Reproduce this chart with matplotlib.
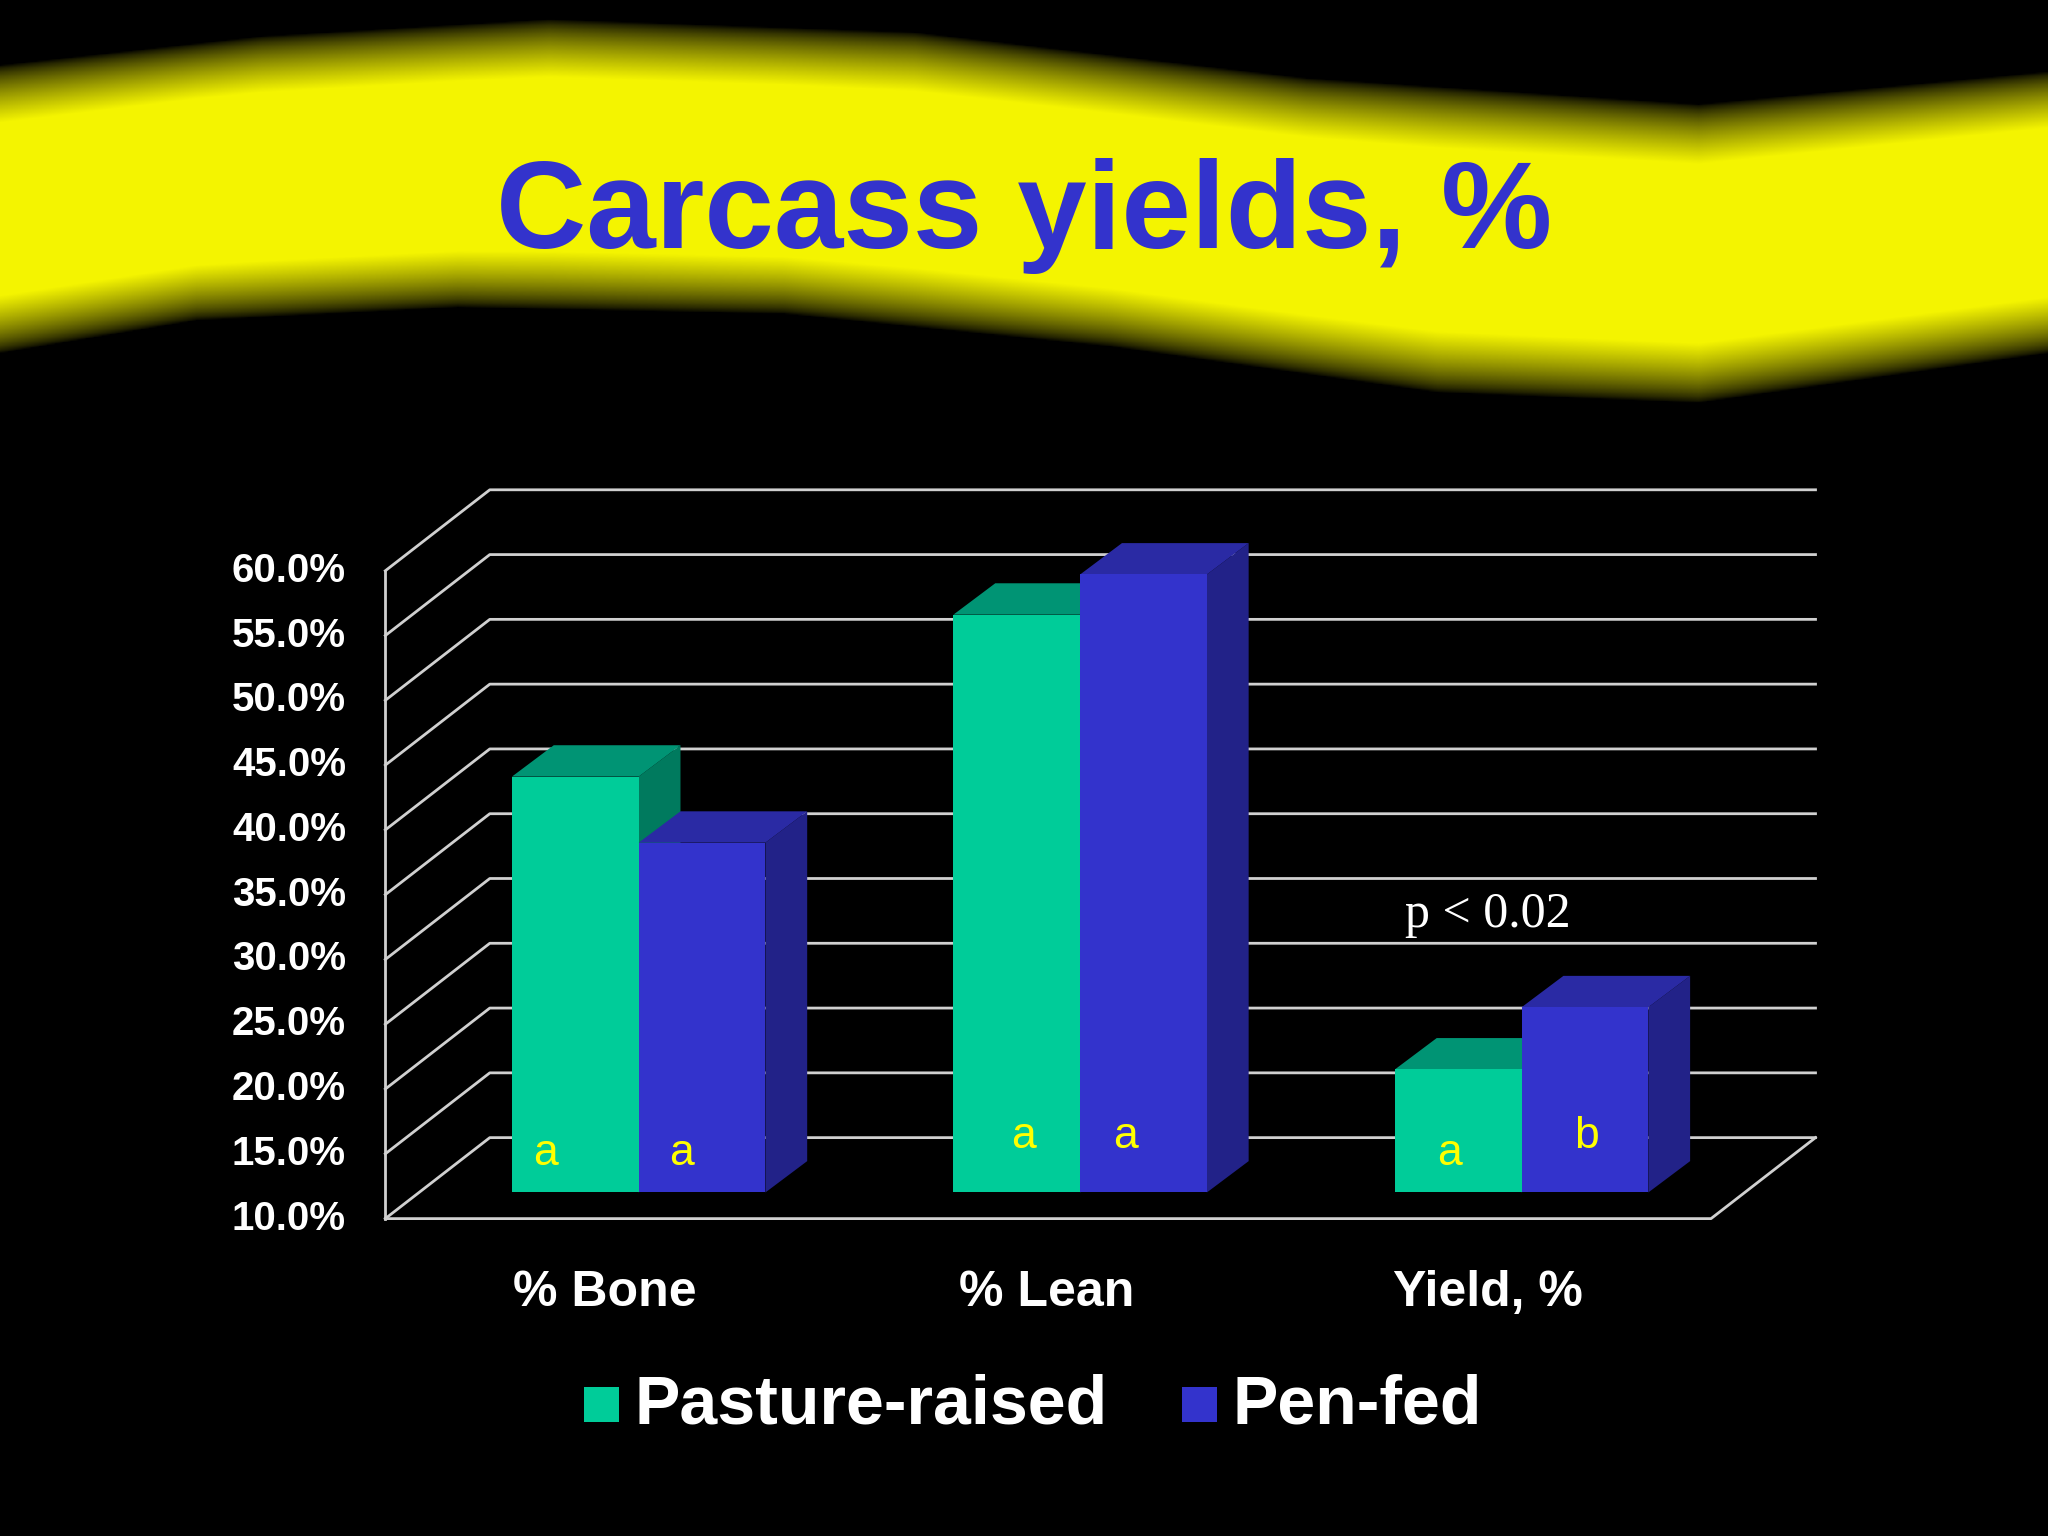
import numpy as np
import matplotlib.pyplot as plt
from matplotlib.patches import Polygon

# données
categories = ["% Bone", "% Lean", "Yield, %"]
pasture = [42.1, 54.6, 19.5]
penfed = [37.0, 57.7, 24.3]
letters_pasture = ["a", "a", "a"]
letters_penfed = ["a", "a", "b"]
ticks = [10, 15, 20, 25, 30, 35, 40, 45, 50, 55, 60]

W, H = 1568, 1176
fig = plt.figure(figsize=(20.48, 15.36), dpi=100, facecolor="black")
ax = fig.add_axes([0, 0, 1, 1])
ax.set_xlim(0, W)
ax.set_ylim(H, 0)
ax.axis("off")
ax.set_facecolor("black")

# bandeau jaune avec dégradé sur les bords
xs = np.arange(W)
top = np.interp(xs, [0, 200, 420, 700, 1000, 1300, 1568], [50, 28, 15, 25, 60, 80, 55])
bot = np.interp(xs, [0, 150, 350, 600, 850, 1100, 1300, 1568], [270, 245, 235, 240, 265, 300, 308, 270])
yy = np.arange(330)[:, None]
t = (yy - top[None, :]) / (bot - top)[None, :]
m = np.clip(np.minimum(t, 1 - t) / 0.2, 0, 1)
m = np.where((t < 0) | (t > 1), 0, m) ** 0.7
img = np.zeros((330, W, 3))
img[..., 0] = 0.96 * m
img[..., 1] = 0.96 * m
ax.imshow(img, extent=(0, W, 330, 0), zorder=0)
ax.text(W / 2, 165, "Carcass yields, %", color="#3333cc", fontsize=90,
        fontweight="bold", ha="center", va="center", family="Liberation Sans", zorder=5)

# géométrie du graphe pseudo-3D
y0, ppu = 933, 9.92          # 10 % en façade, pixels par point de %
xf0, xf1 = 295, 1310
dx, dy = 80, -62
def yv(v, base=y0):
    return base - (v - 10) * ppu

gc = "#d0d0d0"
for v in ticks:
    y = yv(v)
    ax.plot([xf0, xf0 + dx, xf1 + dx], [y, y + dy, y + dy], color=gc, lw=2, zorder=1)
    ax.text(265, y, f"{v:.1f}%", color="white", fontsize=29, fontweight="bold",
            ha="right", va="center", family="Liberation Sans")
ax.plot([xf0, xf0], [yv(10), yv(60)], color=gc, lw=2)
ax.plot([xf0, xf1, xf1 + dx], [y0, y0, y0 + dy], color=gc, lw=2)

bw, ddx, ddy = 97, 32, -24
base = 913
starts = [392, 730, 1068]
letter_x = [[418, 522], [784, 862], [1110, 1215]]
letter_y = [[883, 883], [870, 870], [883, 870]]
series = [(pasture, "#00cc99", "#009474", "#007a5e", letters_pasture),
          (penfed, "#3333cc", "#2a2aa4", "#222288", letters_penfed)]
for i, x0 in enumerate(starts):
    for j, (vals, cf, ct, cs, lets) in enumerate(series):
        xl = x0 + j * bw
        yt = base - (vals[i] - 10) * ppu
        ax.add_patch(Polygon([[xl + bw, base], [xl + bw + ddx, base + ddy],
                              [xl + bw + ddx, yt + ddy], [xl + bw, yt]], fc=cs, ec="none", zorder=3 + j))
        ax.add_patch(Polygon([[xl, yt], [xl + ddx, yt + ddy], [xl + bw + ddx, yt + ddy],
                              [xl + bw, yt]], fc=ct, ec="none", zorder=3 + j))
        ax.add_patch(Polygon([[xl, base], [xl + bw, base], [xl + bw, yt], [xl, yt]],
                             fc=cf, ec="none", zorder=3 + j))
        ax.text(letter_x[i][j], letter_y[i][j], lets[i], color="#ffff00", fontsize=32,
                ha="center", va="center", family="Liberation Sans", zorder=8)
ax.text(463, 990, categories[0], color="white", fontsize=36, fontweight="bold",
        ha="center", va="center", family="Liberation Sans")
ax.text(801, 990, categories[1], color="white", fontsize=36, fontweight="bold",
        ha="center", va="center", family="Liberation Sans")
ax.text(1139, 990, categories[2], color="white", fontsize=36, fontweight="bold",
        ha="center", va="center", family="Liberation Sans")

ax.text(1139, 700, "p < 0.02", color="white", fontsize=36, ha="center", va="center",
        family="Liberation Serif")

# légende
for x, c, lab in [(447, "#00cc99", "Pasture-raised"), (905, "#3333cc", "Pen-fed")]:
    ax.add_patch(Polygon([[x, 1062], [x + 27, 1062], [x + 27, 1089], [x, 1089]], fc=c, ec="none"))
    ax.text(x + 39, 1076, lab, color="white", fontsize=49, fontweight="bold",
            ha="left", va="center", family="Liberation Sans")

fig.savefig("out.png", dpi=100, facecolor="black")
